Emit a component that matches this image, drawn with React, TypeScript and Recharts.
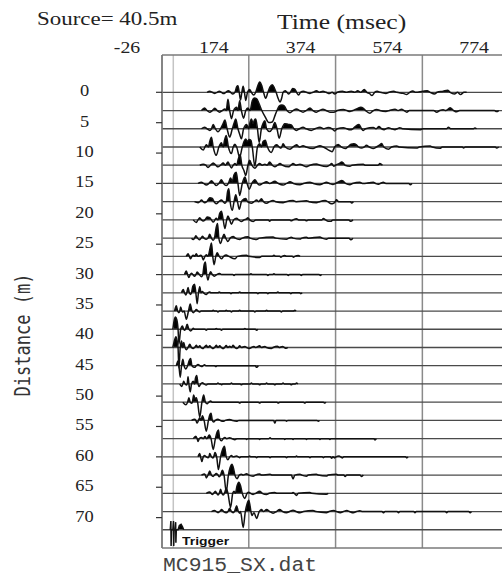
import { Area, CartesianGrid, ComposedChart, Line, ReferenceLine, XAxis, YAxis } from 'recharts'

// axes
const TIME_TICKS = [-26, 174, 374, 574, 774]
const TIME_DOMAIN: [number, number] = [-26, 799]
const DISTANCE_TICKS = [0, 5, 10, 15, 20, 25, 30, 35, 40, 45, 50, 55, 60, 65, 70]
const DISTANCE_DOMAIN: [number, number] = [-6.14, 75]
const TRIGGER_TIME = 0
const TRIGGER_DISTANCE = 72

// receiver offsets (m), one wiggle trace each
const DISTANCES = [0, 3, 6, 9, 12, 15, 18, 21, 24, 27, 30, 33, 36, 39, 42, 45, 48, 51, 54, 57, 60, 63, 66, 69]

// samples: [ms, amplitude, ms, amplitude, ...], amplitude positive = upward (filled)
const T00 = [78, 0, 84, 1, 90, 0, 96, -1, 101, 0, 106, 1, 111, 0, 116, -1.2, 121, 0, 127, 1.5, 132, 0, 137, -1.5, 142, 0, 146, 5, 149, 6, 152, 0, 155, -7, 158, 0, 161, 5.5, 164, 0, 167, -7.5, 171, 0, 176, 2.5, 180, 0, 185, -2.5, 190, 0, 194, 5, 199, 9.5, 204, 6, 208, 0, 213, -5.5, 218, 0, 223, 5, 228, 7, 233, 4, 237, 0, 242, -6, 246, -9, 250, -5, 253, 0, 258, 1.5, 262, 0, 266, -1.5, 270, 0, 275, 3.5, 280, 3, 284, 0, 289, -2.5, 293, 0, 300, 1, 307, 0, 315, -1, 322, 0, 330, 1.5, 337, 0, 345, 1, 352, 0, 360, -1.2, 366, 0, 372, -1.5, 378, 0, 390, 1, 398, 0, 410, 1, 418, 0, 425, 1.5, 432, 0, 440, 2.5, 446, 0, 452, -1, 458, -3, 464, 0, 470, 1, 477, 0, 490, -1, 497, 0, 508, 1, 515, 0, 530, -1, 538, -2, 545, 0, 552, 1.2, 558, 0, 575, 1, 585, 1.5, 592, 0, 602, -1.5, 608, 0, 622, 1, 632, 2, 638, 0, 648, -1.5, 655, 0, 662, -2, 670, 0, 676, 0]
const T03 = [65, 0, 72, 2.3, 78, 0, 84, -1.5, 90, 0, 96, 2, 101, 0, 107, -1.5, 113, 0, 119, 1.5, 122, 0, 126, 10.5, 130, 0, 134, -7.5, 139, 0, 146, 3, 149, 0, 153, 9, 157, 0, 162, -7, 167, 0, 172, 2.3, 177, 0, 182, 9, 187, 11.5, 192, 11, 198, 6, 204, 0, 212, -6, 220, -11, 228, -10.5, 235, -4, 239, 0, 244, 4, 250, 5, 256, 4, 262, 0, 269, -2, 276, 0, 284, 1.5, 291, 0, 299, -1.5, 306, 0, 315, 2.3, 322, 0, 330, -1.5, 337, 0, 345, 1.2, 352, 0, 361, -1.5, 370, -1.5, 378, 0, 392, 1, 400, 0, 407, -1, 414, 0, 425, 2, 432, 3, 438, 2, 443, 0, 453, -2.5, 461, 0, 469, 1, 476, 0, 490, -0.8, 498, 0, 511, 1.2, 518, 0, 526, 1.2, 532, 0, 538, -1.5, 544, 0, 600, 0, 607, -1.5, 614, 0, 622, 0.8, 628, 0, 638, 2.5, 646, 0, 653, -1.2, 660, 0, 740, 0, 745, -1, 750, 0]
const T06 = [65, 0, 72, 1.5, 78, 0, 84, -1.5, 88, 0, 92, 4, 97, 0, 103, -2.7, 109, 0, 114, 4, 119, 8, 124, 0, 130, -7.7, 136, 0, 140, 5, 144, 9, 149, 0, 153, -5, 157, -9.3, 162, 0, 169, 4, 174, 0, 177, 6, 180, 9, 184, 5, 187, 8, 190, 9, 194, 0, 198, -12.7, 203, 0, 207, 5, 211, 7.3, 215, 0, 222, -2.5, 228, 0, 234, 5.7, 239, 0, 244, -8.7, 250, 0, 257, 4.7, 265, 4, 272, 3.5, 278, 0, 284, -1.5, 291, 0, 299, 1.5, 306, 0, 318, -1.5, 327, 0, 338, 1.5, 346, 0, 357, 1.2, 366, 0, 372, -2, 378, 0, 392, 1, 400, 0, 407, -1, 414, 0, 422, 3, 428, 4, 434, 0, 438, -1.5, 443, 0, 461, 1.2, 467, 0, 474, 2, 480, 0, 486, -0.8, 490, 0, 496, 1, 503, 0, 511, -1, 516, 0, 522, 1, 528, 0, 569, -1, 575, 0, 630, 0, 634, 1.3, 640, 0, 692, 0, 695, 0.8, 699, 0]
const T09 = [61, 0, 69, -2.7, 73, 0, 76, 2, 81, 0, 84, 5, 88, 9, 92, 0, 99, -7.7, 105, 0, 111, 4, 115, 0, 118, 6, 122, 10.7, 127, 0, 134, -6, 138, 0, 142, 2.5, 146, 0, 153, -9.3, 159, 0, 163, 5, 167, 7.3, 171, 5, 175, 7, 179, 6, 182, 0, 188, -17.7, 194, 0, 199, 3, 203, 0, 207, 5, 212, 6.3, 217, 0, 226, -5, 232, 0, 238, 2, 244, 0, 248, -1, 250, 0, 253, 3, 258, 0, 269, -2, 276, 0, 284, 2, 291, 0, 299, 1.2, 306, 0, 322, -1.5, 330, 0, 338, 1.2, 346, 0, 361, -3.5, 366, -4.3, 372, 0, 380, 2.3, 387, 0, 396, -1.5, 402, 0, 410, 2.5, 416, 3, 422, 2, 427, 0, 434, -1, 440, 0, 445, 1.5, 452, 0, 461, -1.5, 468, 0, 476, 2, 480, 3.3, 485, 0, 496, -2, 503, 0, 515, 1, 520, 0, 561, -1, 567, 0, 592, 0.8, 597, 0, 615, -1.2, 620, 0, 666, 0, 669, -1, 673, 0, 742, 0, 745, -1, 750, 0]
const T12 = [61, 0, 69, 1, 75, 0, 80, -2, 86, 0, 92, 2, 98, 0, 103, -1.5, 109, 0, 115, 2, 120, 0, 126, 3, 130, 0, 134, -2.5, 138, 0, 142, 1.5, 146, 0, 150, 6, 154, 9.8, 158, 0, 163, -5, 167, -9.5, 172, 0, 176, 4.5, 181, 0, 188, -2.8, 194, 0, 199, 1.5, 205, 0, 211, 1, 216, 0, 222, 3, 228, 0, 234, -1.5, 240, 0, 246, 1.5, 252, 0, 265, -1.5, 271, 0, 276, 1.5, 283, 0, 292, 1, 298, 0, 307, -1.5, 315, 0, 330, 1.2, 338, 0, 353, -1.2, 360, 0, 365, 1.5, 368, 0, 370, -1, 374, 0, 384, 2, 388, 3, 392, 2, 396, 0, 407, -1, 412, 0, 438, 0.8, 443, 0, 472, 0, 476, 1.5, 482, 0]
const T15 = [57, 0, 65, 1, 70, 0, 76, -1.5, 82, 0, 88, 2.5, 94, 0, 99, -2, 105, 0, 111, 3.5, 116, 0, 122, -2, 127, 0, 132, 5, 136, 2, 140, 8, 145, 10.3, 149, 0, 153, -11, 159, 0, 165, 6, 170, 0, 175, -5.3, 181, 0, 188, 3.5, 194, 0, 199, -1.5, 206, 0, 215, 1.5, 222, 0, 234, 2, 242, 0, 253, -1.5, 261, 0, 269, 1.5, 277, 0, 292, -1.2, 300, 0, 315, 1.2, 323, 0, 338, -1.2, 345, 0, 353, 1, 360, 0, 368, -1, 374, 0, 384, 2, 388, 2.8, 392, 2, 397, 0, 407, -1.2, 413, 0, 430, 1, 436, 0, 461, 1, 466, 0, 472, -0.8, 477, 0, 484, 1, 490, 0, 543, 0, 546, -1.2, 550, 0]
const T18 = [49, 0, 57, -1, 61, 0, 65, 1.5, 69, 0, 72, -1, 77, 0, 84, 3.7, 90, 3, 94, 0, 99, -2, 105, 0, 111, 1.5, 115, 0, 119, -1.5, 122, 0, 125, 9, 128, 12, 131, 0, 136, -8, 140, 0, 144, 6.3, 148, 0, 152, -7, 157, 0, 163, 2.5, 167, 3, 171, 0, 180, -1.5, 186, 0, 192, 1.5, 197, 0, 203, 2.7, 208, 0, 215, -1.5, 222, 0, 230, 1, 236, 0, 253, -1, 260, 0, 276, 1, 283, 0, 307, 0.8, 313, 0, 330, -1, 337, 0, 350, 1, 356, 0, 364, -2, 369, -1.5, 373, 0, 376, 1.7, 381, 0, 408, 0, 411, -1.3, 415, 0]
const T21 = [46, 0, 53, -2.3, 57, 0, 61, 2, 65, 0, 69, -1, 73, 0, 78, 2.7, 84, 2, 88, 0, 92, -2, 96, 0, 99, 1.5, 103, 0, 107, 6, 111, 8, 115, 0, 119, -8, 123, 0, 126, 3.7, 130, 0, 134, -4, 139, 0, 146, 1.5, 151, 0, 157, -1.5, 163, 0, 169, 1, 172, 2, 176, 0, 184, -1.5, 190, 0, 219, 0, 222, -1.2, 226, 0, 268, 0, 272, -0.8, 276, 0, 284, 1, 289, 0, 303, 0, 307, -0.8, 311, 0, 342, 0, 346, 1.2, 351, 0, 357, -1.2, 363, -1.3, 368, 0, 404, 0, 409, -1.3, 414, 0]
const T24 = [42, 0, 46, -1.2, 49, 0, 52, 2.3, 56, 0, 60, -1.5, 64, 0, 67, 1.8, 71, 0, 76, -1, 80, 0, 84, 3.5, 88, 0, 92, -2, 95, 0, 99, 10, 102, 13.5, 105, 0, 109, -5, 113, 0, 117, 3.5, 121, 0, 126, -3, 131, 0, 138, 1.5, 143, 0, 153, -1.2, 159, 0, 172, 1.2, 177, 0, 192, -1.2, 198, 0, 230, 1, 236, 0, 261, -1, 266, 0, 272, 0.8, 276, 0, 292, -0.8, 296, 0, 307, 0.8, 311, 0, 338, 1, 343, 0, 353, -1, 358, 0, 405, 0, 409, -1.5, 414, 0]
const T27 = [30, 0, 34, 2.3, 37, 0, 40, -2.3, 43, 0, 46, 1, 49, 0, 53, 2.3, 57, 0, 63, 1, 66, 0, 69, -3.3, 73, 0, 76, 1.5, 80, 0, 85, 8, 88, 12.3, 91, 0, 94, -7.7, 98, 0, 101, 3.3, 106, 0, 111, -2.3, 116, 0, 122, 1.2, 128, 0, 142, -2.3, 148, 0, 169, 1, 174, 0, 199, -1, 204, 0, 228, 0, 232, 1, 236, 0, 245, 0, 248, -0.8, 251, 0, 257, 0.8, 261, 0, 274, 0, 277, -0.8, 280, 0, 288, 0.8, 292, 0]
const T30 = [26, 0, 30, 3.3, 33, 0, 36, -2.7, 39, 0, 42, 1.2, 45, 0, 49, -1.5, 52, 0, 55, 2.3, 60, 0, 65, -2, 68, 0, 71, 9, 74, 11.7, 77, 0, 80, -5, 83, 0, 86, 2.7, 90, 0, 95, -1.5, 100, 0, 107, 1, 111, 0, 137, 0, 140, -0.8, 143, 0, 176, 0, 179, 0.8, 182, 0, 215, 0, 218, -0.8, 221, 0, 229, 0, 232, 0.8, 235, 0, 262, 0, 265, -0.8, 268, 0, 292, 0, 295, -0.8, 298, 0, 336, 0, 339, -0.8, 342, 0]
const T33 = [19, 0, 23, 3, 26, 0, 29, -2, 31, 0, 34, 5, 37, 0, 40, -1.5, 42, 0, 45, 6, 49, 8, 52, 0, 55, -10, 58, 0, 61, 5.5, 64, 0, 67, 1.2, 70, 0, 76, -1.5, 80, 0, 84, 0.8, 87, 0, 103, 0, 106, 0.8, 109, 0, 130, 0, 133, -0.8, 136, 0, 150, 0, 153, 0.8, 156, 0, 192, 0, 195, -0.8, 198, 0, 215, 0, 218, -0.8, 221, 0, 238, 0, 241, 0.8, 244, 0, 268, 0, 271, -0.8, 274, 0, 291, 0, 294, -0.8, 297, 0]
const T36 = [3, 0, 7, 4.8, 10, 0, 13, -1.5, 15, 0, 17, 3.8, 20, 0, 22, -1, 25, 0, 30, -7.5, 35, 0, 39, 6.5, 43, 0, 46, -1.5, 50, 0, 53, 1.5, 57, 0, 61, -0.8, 64, 0, 89, 0, 92, 0.8, 95, 0, 100, 0, 103, -0.8, 106, 0, 119, 0, 122, 0.8, 125, 0, 131, 0, 134, -0.8, 137, 0, 150, 0, 153, 0.8, 156, 0, 185, 0, 188, -0.8, 191, 0, 212, 0, 215, 0.8, 218, 0, 246, 0, 249, -0.8, 252, 0, 277, 0, 280, 0.8, 283, 0]
const T39 = [-1, 0, 2, 8, 5, 11.3, 8, 9, 11, 0, 13, -13.7, 17, 0, 21, 3, 24, 0, 26, -1, 28, 0, 32, 4.7, 36, 0, 40, -1.5, 44, 0, 46, 1, 49, 0, 73, 0, 76, -0.8, 79, 0, 96, 0, 99, 0.8, 102, 0, 108, 0, 111, -0.8, 114, 0, 162, 0, 165, 0.8, 168, 0, 189, 0, 192, -1, 195, 0]
const T42 = [-1, 0, 3, 7, 6, 10, 9, 6, 11, 0, 13, -18.8, 16, 0, 19, 6, 22, 0, 24, 4.5, 27, 0, 30, -2, 34, 0, 38, 3, 42, 0, 46, -1, 49, 0, 53, 2, 57, 0, 61, 1.5, 64, 0, 68, -1, 71, 0, 76, 2, 80, 0, 84, 1.5, 88, 0, 92, -1, 95, 0, 99, 2, 103, 0, 107, 1.5, 111, 0, 115, -1, 118, 0, 122, 1.8, 126, 0, 130, 1.2, 134, 0, 138, 2, 142, 0, 146, -1, 150, 0, 153, 1.5, 157, 0, 165, 1, 169, 0, 176, -1, 180, 0, 186, 1, 190, 0, 199, 1.5, 203, 0, 211, 1, 215, 0, 226, -1, 230, 0, 240, 1.2, 244, 0, 252, 1, 256, 0, 260, -0.8, 264, 0]
const T45 = [7, 0, 11, 4.3, 13, 0, 16, -10.7, 19, 0, 22, 6, 25, 0, 29, -3, 33, 0, 37, 5, 40, 6.7, 43, 0, 49, -1.5, 53, 0, 57, 1.2, 61, 0, 65, -0.8, 69, 0, 72, 1, 75, 0, 95, 0, 98, -0.8, 101, 0, 189, 0, 192, -1.5, 196, 0]
const T48 = [15, 0, 19, -2.3, 22, 0, 24, 2.5, 27, 0, 30, -1, 32, 0, 34, 6.7, 36, 0, 39, -7.3, 42, 0, 46, 2.5, 49, 0, 51, 5, 54, 7.7, 57, 0, 60, -2.3, 63, 0, 67, 1.2, 71, 0, 76, -1, 80, 0, 100, 0, 103, 0.8, 106, 0, 109, 0, 111, -0.8, 114, 0, 131, 0, 134, 0.8, 137, 0, 154, 0, 157, -0.8, 160, 0, 177, 0, 180, 0.8, 183, 0, 196, 0, 199, -0.8, 202, 0, 212, 0, 215, 0.8, 218, 0, 231, 0, 234, -0.8, 237, 0, 250, 0, 253, 0.8, 256, 0, 269, 0, 272, -0.8, 275, 0, 281, 0, 284, 0.8, 287, 0]
const T51 = [22, 0, 29, -2.3, 33, 0, 36, 4, 39, 0, 42, -1, 44, 0, 47, 6.6, 50, 3, 53, 4, 56, 0, 61, -13.7, 66, 0, 70, 6.6, 74, 0, 78, -1.5, 82, 0, 86, 1, 90, 0, 150, 0, 153, -0.8, 156, 0, 196, 0, 199, -0.8, 202, 0, 239, 0, 242, -0.8, 245, 0, 300, 0, 303, -0.8, 306, 0, 346, 0, 349, -0.8, 352, 0]
const T54 = [42, 0, 49, 1, 52, 0, 55, -2.5, 58, 0, 61, 2.5, 64, 0, 67, 4.2, 71, 0, 76, -10, 81, 0, 84, 5, 87, 6.5, 90, 0, 93, -1.5, 97, 0, 103, 1, 108, 0, 115, -0.8, 120, 0, 130, 0.8, 136, 0, 146, -0.8, 151, 0, 231, 0, 234, -2.5, 237, 0, 258, 0, 261, -0.8, 264, 0, 331, 0, 334, -0.8, 337, 0]
const T57 = [46, 0, 52, 2.3, 55, 0, 57, -2.7, 60, 0, 65, 1, 69, 0, 73, 2, 77, 0, 83, 3.3, 87, 0, 92, -10, 97, 0, 101, 6, 104, 8, 107, 0, 111, -2, 115, 0, 119, 1, 123, 0, 130, 0.8, 135, 0, 142, -1, 147, 0, 166, 0, 169, -0.8, 172, 0, 196, 0, 199, -0.8, 202, 0, 220, 0, 223, 0.8, 226, 0, 254, 0, 257, -0.8, 260, 0, 273, 0, 276, -0.8, 279, 0, 304, 0, 307, -0.8, 310, 0, 335, 0, 338, -0.8, 341, 0, 358, 0, 361, -0.8, 364, 0, 462, 0, 465, -1.2, 468, 0]
const T60 = [57, 0, 61, 3, 63, 0, 66, -4.3, 69, 0, 72, 1.2, 76, 0, 80, -0.8, 82, 0, 84, 3, 88, 0, 91, -1, 93, 0, 96, 4, 100, 0, 104, -11.7, 109, 0, 113, 6, 118, 9.7, 122, 0, 126, -2.7, 130, 0, 134, 1.2, 138, 0, 146, 0.8, 150, 0, 153, -0.8, 156, 0, 173, 0, 176, 0.8, 179, 0, 189, 0, 192, -0.8, 195, 0, 220, 0, 223, -0.8, 226, 0, 258, 0, 261, -0.8, 264, 0, 281, 0, 284, 0.8, 287, 0, 312, 0, 315, -0.8, 318, 0, 343, 0, 346, -0.8, 349, 0, 362, 0, 365, -1.3, 368, 0, 372, -1, 375, 0, 382, 0.8, 386, 0, 390, -1, 393, 0, 535, 0, 538, -1, 541, 0]
const T63 = [65, 0, 72, 1, 74, 0, 76, -2.7, 80, 0, 84, 3.8, 88, 0, 92, -1.2, 95, 0, 99, 1.5, 103, 0, 106, -1.5, 109, 0, 113, 4.5, 117, 0, 122, -15.5, 127, 0, 131, 7, 135, 9.9, 139, 6, 142, 0, 147, -3.3, 152, 0, 157, 0.8, 161, 0, 169, 1.2, 174, 0, 184, -1, 189, 0, 199, 1, 204, 0, 223, 0.8, 228, 0, 272, 0, 276, -3.5, 280, 0, 292, 0.8, 296, 0, 307, -1, 311, 0, 330, 0.8, 334, 0, 353, -0.8, 357, 0, 376, 0.8, 380, 0, 393, 0, 396, -1.2, 400, 0, 430, 0, 434, -1.2, 438, 0]
const T66 = [76, 0, 84, 1.2, 87, 0, 90, -1.2, 93, 0, 97, 2, 100, 0, 103, -1.5, 106, 0, 109, 3.7, 112, 0, 115, -1.5, 118, 0, 122, 4.7, 126, 0, 132, -13, 137, 0, 140, 2, 143, 0, 147, 7, 151, 10.3, 155, 7, 159, 0, 165, -4.7, 170, 0, 174, 1, 178, 0, 184, -1, 190, 0, 199, 2, 205, 0, 215, -1.2, 221, 0, 234, 0.8, 239, 0, 273, 0, 276, 0.8, 279, 0, 284, -2, 288, 0, 315, 0.8, 319, 0, 353, -0.8, 357, 0]
const T69 = [88, 0, 95, 1, 99, 0, 103, -1, 107, 0, 111, 2, 116, 0, 122, -1.2, 126, 0, 130, 3, 134, 0, 138, -1, 141, 0, 146, 5.3, 150, 0, 153, -1.5, 155, 0, 161, -14.7, 166, 0, 170, 7, 174, 10.3, 177, 5, 179, 0, 181, -3.7, 186, -1, 192, -6.3, 198, 0, 203, 2, 208, 0, 215, 2, 222, 0, 230, -1.5, 238, 0, 245, 2, 252, 0, 261, -1, 268, 0, 276, 1.2, 283, 0, 292, -1.2, 300, 0, 322, 1, 328, 0, 353, -1, 359, 0, 370, 1, 376, 0, 385, -1, 392, 0, 400, 1, 406, 0, 415, -1.2, 422, 0, 430, 0.8, 436, 0, 481, 0, 484, -1.2, 488, 0, 516, 0, 519, -1.2, 522, 0, 554, 0, 557, -1.2, 560, 0, 627, 0, 630, -1.2, 633, 0, 681, 0, 684, -1.2, 687, 0]
const TRIGGER = [-7, 0, -5.5, 8, -5, -15, -4, 0, -1, 0, 0.5, 8, 1, -15, 2, 0, 4, 0, 5.5, 7, 6, -12, 7, 0, 11, 0, 14, 4, 18, 5, 21, 3, 24, 0]

const TRACES = [T00, T03, T06, T09, T12, T15, T18, T21, T24, T27, T30, T33, T36, T39, T42, T45, T48, T51, T54, T57, T60, T63, T66, T69]

// trace amplitude units per metre of offset
const GAIN = 1 / 5.6

function toRows(flat: number[], d: number) {
  const rows: { t: number; y: number; lobe: number }[] = []
  for (let i = 0; i < flat.length; i += 2) {
    const a = flat[i + 1]
    rows.push({ t: flat[i], y: d - a * GAIN, lobe: d - Math.max(a, 0) * GAIN })
  }
  return rows
}

const FRAME = '#7a7a7a'

function TimeTick({ x, y, payload }: any) {
  return (
    <text
      transform={`translate(${x - 35},${y}) scale(1.2,1)`}
      textAnchor="middle"
      dy="0.35em"
      fontFamily="Liberation Serif"
      fontSize={16.5}
      fill="#222"
    >
      {payload.value}
    </text>
  )
}

function DistanceTick({ x, y, payload }: any) {
  return (
    <text
      transform={`translate(${x - 71.5},${y}) scale(1.15,1)`}
      textAnchor="middle"
      dy="0.25em"
      fontFamily="Liberation Serif"
      fontSize={16}
      fill="#222"
    >
      {payload.value}
    </text>
  )
}

const serif = { fontFamily: 'Liberation Serif', color: '#222', lineHeight: 1, whiteSpace: 'nowrap' as const, position: 'absolute' as const }

export default function App() {
  const series = TRACES.map((flat, i) => ({ d: DISTANCES[i], rows: toRows(flat, DISTANCES[i]) }))
  const trigger = toRows(TRIGGER, TRIGGER_DISTANCE)

  return (
    <div style={{ position: 'absolute', left: 0, top: 0, width: 502, height: 576, overflow: 'hidden', background: '#fff' }}>
      <ComposedChart width={520} height={576} margin={{ top: 0, right: 0, bottom: 0, left: 0 }}>
        <XAxis
          xAxisId="top"
          orientation="top"
          type="number"
          dataKey="t"
          domain={TIME_DOMAIN}
          allowDataOverflow
          ticks={TIME_TICKS}
          interval={0}
          height={55}
          tickLine={false}
          tickSize={0}
          tickMargin={8}
          axisLine={{ stroke: FRAME, strokeWidth: 1.5 }}
          tick={(p: any) => <TimeTick {...p} />}
        />
        <XAxis
          xAxisId="bottom"
          orientation="bottom"
          type="number"
          domain={TIME_DOMAIN}
          allowDataOverflow
          height={28}
          tick={false}
          tickLine={false}
          axisLine={{ stroke: FRAME, strokeWidth: 1.5 }}
        />
        <YAxis
          yAxisId="d"
          type="number"
          domain={DISTANCE_DOMAIN}
          allowDataOverflow
          reversed
          ticks={DISTANCE_TICKS}
          interval={0}
          width={162}
          tickSize={6}
          tickMargin={0}
          tickLine={{ stroke: '#333', strokeWidth: 1.2 }}
          axisLine={{ stroke: FRAME, strokeWidth: 1.5 }}
          tick={(p: any) => <DistanceTick {...p} />}
        />
        <CartesianGrid xAxisId="top" yAxisId="d" horizontal={false} stroke="#8a8a8a" strokeWidth={1.5} />
        <ReferenceLine xAxisId="top" yAxisId="d" x={TRIGGER_TIME} stroke="#c4c4c4" strokeWidth={1.5} />
        {[...DISTANCES, TRIGGER_DISTANCE].map((d) => (
          <ReferenceLine key={`b${d}`} xAxisId="top" yAxisId="d" y={d} stroke="#4a4a4a" strokeWidth={1.3} />
        ))}
        {series.map((s) => (
          <Area
            key={`a${s.d}`}
            xAxisId="top"
            yAxisId="d"
            data={s.rows}
            dataKey="lobe"
            baseValue={s.d}
            type="monotone"
            stroke="none"
            fill="#000"
            fillOpacity={1}
            isAnimationActive={false}
          />
        ))}
        {series.map((s) => (
          <Line
            key={`l${s.d}`}
            xAxisId="top"
            yAxisId="d"
            data={s.rows}
            dataKey="y"
            type="monotone"
            stroke="#111"
            strokeWidth={1.5}
            dot={false}
            isAnimationActive={false}
          />
        ))}
        <Area
          xAxisId="top"
          yAxisId="d"
          data={trigger}
          dataKey="lobe"
          baseValue={TRIGGER_DISTANCE}
          type="linear"
          stroke="none"
          fill="#000"
          fillOpacity={1}
          isAnimationActive={false}
        />
        <Line
          xAxisId="top"
          yAxisId="d"
          data={trigger}
          dataKey="y"
          type="linear"
          stroke="#111"
          strokeWidth={1.5}
          dot={false}
          isAnimationActive={false}
        />
      </ComposedChart>

      <div style={{ ...serif, left: 37, top: 9.5, fontSize: 18.5, transform: 'scaleX(1.24)', transformOrigin: 'left top' }}>
        Source= 40.5m
      </div>
      <div style={{ ...serif, left: 277, top: 12.4, fontSize: 21, transform: 'scaleX(1.22)', transformOrigin: 'left top' }}>
        Time (msec)
      </div>
      <div
        style={{
          position: 'absolute',
          left: 23,
          top: 335,
          fontFamily: 'DejaVu Sans Mono',
          fontSize: 17,
          lineHeight: 1,
          color: '#333',
          whiteSpace: 'nowrap',
          transform: 'translate(-50%,-50%) scaleX(1.2) rotate(-90deg)',
        }}
      >
        Distance (m)
      </div>
      <div
        style={{
          position: 'absolute',
          left: 181.7,
          top: 535.2,
          fontFamily: 'Liberation Sans',
          fontWeight: 700,
          fontSize: 11.6,
          lineHeight: 1,
          color: '#111',
          whiteSpace: 'nowrap',
          transform: 'scaleX(1.2)',
          transformOrigin: 'left top',
        }}
      >
        Trigger
      </div>
      <div
        style={{
          position: 'absolute',
          left: 162.7,
          top: 555.7,
          fontFamily: 'Liberation Mono',
          fontSize: 20,
          lineHeight: 1,
          color: '#444',
          whiteSpace: 'nowrap',
          transform: 'scaleX(1.07)',
          transformOrigin: 'left top',
        }}
      >
        MC915_SX.dat
      </div>
    </div>
  )
}
